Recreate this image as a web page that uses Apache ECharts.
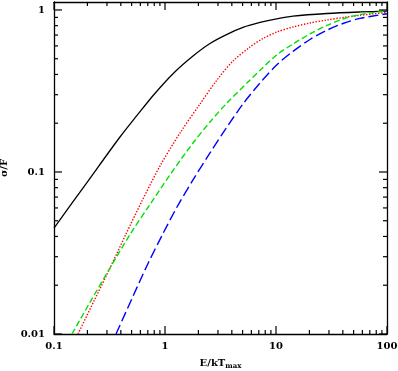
<!DOCTYPE html>
<html>
<head>
    <meta charset="UTF-8">
    <title>sigma/F vs E/kTmax</title>
    <script src="https://cdn.jsdelivr.net/npm/echarts@6/dist/echarts.min.js"></script>
    <style>
        html, body { margin: 0; padding: 0; background: #fff; }
    </style>
</head>
<body>
<div id="main" style="width: 398px;height:371px;"></div>
<script type="text/javascript">
    // curves: [E/kTmax, sigma/F]
    var solidBlack = [[0.1, 0.0451], [0.198, 0.0861], [0.393, 0.1644], [0.5595, 0.2233], [0.796, 0.3009],
        [1.205, 0.41], [1.788, 0.52], [2.543, 0.621], [3.619, 0.707], [5.043, 0.78], [7.177, 0.837],
        [10.13, 0.882], [14.23, 0.916], [28.8, 0.951], [57.1, 0.972], [100, 0.984]];
    var dottedRed = [[0.1645, 0.01], [0.2293, 0.016], [0.3196, 0.02555], [0.4452, 0.04143], [0.6204, 0.06622],
        [0.9016, 0.1089], [1.365, 0.174], [2.067, 0.2629], [2.941, 0.3698], [4.099, 0.4843], [5.833, 0.5909],
        [7.637, 0.6669], [10.21, 0.7314], [14.23, 0.7854], [20.24, 0.8313], [28.8, 0.8675], [41.84, 0.9015],
        [57.1, 0.9275], [100, 0.965]];
    var dashedGreen = [[0.1453, 0.01], [0.2155, 0.01609], [0.3196, 0.02555], [0.4839, 0.04114], [0.7324, 0.063],
        [1.109, 0.0961], [1.788, 0.151], [2.543, 0.2035], [3.619, 0.2667], [5.594, 0.3594], [7.478, 0.4354],
        [10.13, 0.5275], [14.23, 0.6168], [20.24, 0.711], [28.8, 0.8023], [40.14, 0.8798], [57.1, 0.938],
        [100, 0.9859]];
    var longDashBlue = [[0.3619, 0.01], [0.5043, 0.01656], [0.7029, 0.02724], [0.9397, 0.04055], [1.283, 0.06081],
        [1.788, 0.0893], [2.543, 0.1311], [3.544, 0.1856], [5.043, 0.2629], [7.177, 0.3542], [10.13, 0.4575],
        [14.23, 0.5553], [20.24, 0.6575], [28.8, 0.7504], [40.14, 0.8253], [57.1, 0.8873], [100, 0.9474]];

    var xMajor = [0.1, 1, 10, 100];
    var xMinor = [0.2, 0.3, 0.4, 0.5, 0.6, 0.7, 0.8, 0.9, 2, 3, 4, 5, 6, 7, 8, 9, 20, 30, 40, 50, 60, 70, 80, 90];
    var yMajor = [0.01, 0.1, 1];
    var yMinor = [0.02, 0.03, 0.04, 0.05, 0.06, 0.07, 0.08, 0.09, 0.2, 0.3, 0.4, 0.5, 0.6, 0.7, 0.8, 0.9];

    var xMin = 0.1, xMax = 100, yMin = 0.01, yMax = 1.12;
    var font = 'DejaVu Serif';

    function isDecade(v) {
        var l = Math.log10(v);
        return Math.abs(l - Math.round(l)) < 1e-6;
    }

    function fmt(v) {
        return isDecade(v) ? String(+v.toPrecision(3)) : '';
    }

    var xTickData = xMajor.map(function (v) { return [v, yMin, 8]; })
        .concat(xMinor.map(function (v) { return [v, yMin, 4]; }));
    var yTickData = yMajor.map(function (v) { return [xMin, v, 8]; })
        .concat(yMinor.map(function (v) { return [xMin, v, 4]; }));

    var tickStyle = {stroke: '#000', lineWidth: 1.2};

    function xTicks(params, api) {
        var cs = params.coordSys;
        var p = api.coord([api.value(0), api.value(1)]);
        var len = api.value(2);
        var b = cs.y + cs.height, t = cs.y;
        return {
            type: 'group', children: [
                {type: 'line', shape: {x1: p[0], y1: b, x2: p[0], y2: b - len}, style: tickStyle},
                {type: 'line', shape: {x1: p[0], y1: t, x2: p[0], y2: t + len}, style: tickStyle}
            ]
        };
    }

    function yTicks(params, api) {
        var cs = params.coordSys;
        var p = api.coord([api.value(0), api.value(1)]);
        var len = api.value(2);
        var l = cs.x, r = cs.x + cs.width;
        return {
            type: 'group', children: [
                {type: 'line', shape: {x1: l, y1: p[1], x2: l + len, y2: p[1]}, style: tickStyle},
                {type: 'line', shape: {x1: r, y1: p[1], x2: r - len, y2: p[1]}, style: tickStyle}
            ]
        };
    }

    var frameLine = {show: true, onZero: false, lineStyle: {color: '#000', width: 1.3}};
    var labelText = {color: '#000', fontFamily: font, fontSize: 10, fontWeight: 'bold'};

    echarts.init(document.getElementById('main')).setOption({
        animation: false,
        backgroundColor: '#fff',
        grid: {left: 54, right: 11, top: 2, bottom: 37, containLabel: false, outerBoundsMode: 'none'},
        xAxis: [{
            type: 'log', logBase: 10, min: xMin, max: xMax,
            axisLine: frameLine,
            axisTick: {show: false},
            splitLine: {show: false},
            axisLabel: Object.assign({formatter: fmt, margin: 7}, labelText),
            name: 'E/kT{sub|max}',
            nameLocation: 'middle',
            nameGap: 23,
            nameTextStyle: Object.assign({
                rich: {sub: {fontFamily: font, fontSize: 7, fontWeight: 'bold', color: '#000', verticalAlign: 'bottom', padding: [6, 0, 0, 0]}}
            }, labelText)
        }, {
            type: 'log', logBase: 10, min: xMin, max: xMax, position: 'top',
            axisLine: frameLine, axisTick: {show: false}, axisLabel: {show: false}, splitLine: {show: false}
        }],
        yAxis: [{
            type: 'log', logBase: 10, min: yMin, max: yMax,
            axisLine: frameLine,
            axisTick: {show: false},
            splitLine: {show: false},
            axisLabel: Object.assign({formatter: fmt, margin: 9, showMaxLabel: false}, labelText),
            name: 'σ/F',
            nameLocation: 'middle',
            nameGap: 42,
            nameTextStyle: labelText
        }, {
            type: 'log', logBase: 10, min: yMin, max: yMax, position: 'right',
            axisLine: frameLine, axisTick: {show: false}, axisLabel: {show: false}, splitLine: {show: false}
        }],
        series: [
            {
                type: 'line', data: solidBlack, smooth: 0.3, symbol: 'none', clip: true,
                lineStyle: {color: '#000', width: 1.3, type: 'solid'}
            },
            {
                type: 'line', data: dottedRed, smooth: 0.3, symbol: 'none', clip: true,
                lineStyle: {color: '#ff0000', width: 1.4, type: [1.4, 1.6]}
            },
            {
                type: 'line', data: dashedGreen, smooth: 0.3, symbol: 'none', clip: true,
                lineStyle: {color: '#00e000', width: 1.4, type: [6, 3]}
            },
            {
                type: 'line', data: longDashBlue, smooth: 0.3, symbol: 'none', clip: true,
                lineStyle: {color: '#0000ff', width: 1.4, type: [10, 4]}
            },
            {type: 'custom', renderItem: xTicks, data: xTickData, encode: {x: 0, y: 1}, silent: true, z: 5},
            {type: 'custom', renderItem: yTicks, data: yTickData, encode: {x: 0, y: 1}, silent: true, z: 5}
        ]
    });
</script>
</body>
</html>
